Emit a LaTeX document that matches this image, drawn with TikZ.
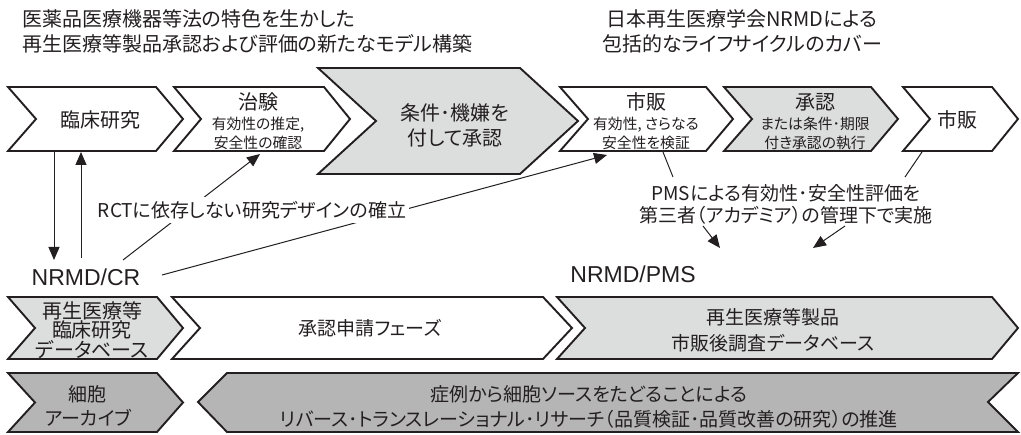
\documentclass[tikz,border=0pt]{standalone}
\usepackage{fontspec}
\setmainfont{Noto Sans CJK JP}[RawFeature=+palt]
\newfontfamily\latinfont{Liberation Sans}
\usetikzlibrary{arrows.meta}
\definecolor{ink}{RGB}{35,31,32}
\definecolor{lightfill}{RGB}{220,221,221}
\definecolor{darkfill}{RGB}{181,181,182}
\newcommand\Ftitle{\fontsize{20}{25}\selectfont}
\newcommand\Fbig{\fontsize{20}{25}\selectfont}
\newcommand\Fmid{\fontsize{19}{22}\selectfont}
\newcommand\Fsmall{\fontsize{14.8}{19}\selectfont}
\newcommand\Flat{\latinfont\fontsize{23}{26}\selectfont}
% style, tl x, notch x, tr x, point x, top y, bottom y
\newcommand\chevshape[7]{%
  \draw[#1] (#2,#6) -- (#4,#6) -- (#5,{(#6+#7)/2}) -- (#4,#7) -- (#2,#7) -- (#3,{(#6+#7)/2}) -- cycle;}
\begin{document}
\begin{tikzpicture}[x=1pt,y=-1pt,
  shapeline/.style={draw=ink, line width=1.9pt, line join=miter},
  whitebox/.style={shapeline, fill=white},
  lightbox/.style={shapeline, fill=lightfill},
  darkbox/.style={shapeline, fill=darkfill},
  conn/.style={draw=ink, line width=1pt},
  arr/.style={conn, -{Triangle[length=13pt,width=11pt]}},
  txt/.style={text=ink, inner sep=0pt, align=center},
  ]
\useasboundingbox (0,0) rectangle (1021,435);

% titles
\node[txt, anchor=west, align=left, font=\Ftitle] (titleL) at (22,31)
  {医薬品医療機器等法の特色を生かした\\再生医療等製品承認および評価の新たなモデル構築};
\node[txt, font=\Ftitle] (titleR) at (742,31)
  {日本再生医療学会NRMDによる\\包括的なライフサイクルのカバー};

% top row of chevrons
\chevshape{whitebox}{8}{36}{156}{183}{87}{151}
\chevshape{whitebox}{174}{201}{324}{350}{87}{151}
\chevshape{lightbox}{318}{376}{520}{578}{68}{174}
\chevshape{whitebox}{560}{588}{706}{733}{87}{151}
\chevshape{lightbox}{724}{752}{871}{898}{87}{151}
\chevshape{whitebox}{903}{930}{992}{1018}{87}{151}

\node[txt, font=\Fbig] (rinsho) at (100,120) {臨床研究};
\node[txt, font=\Fbig] (chiken) at (258,102) {治験};
\node[txt, font=\Fsmall] (chikenS) at (258,133) {有効性の推定,\\安全性の確認};
\node[txt, font=\Fbig] (joken) at (455,125) {条件･機嫌を\\付して承認};
\node[txt, font=\Fbig] (shihan1) at (646,102) {市販};
\node[txt, font=\Fsmall] (shihan1S) at (646,133) {有効性, さらなる\\安全性を検証};
\node[txt, font=\Fbig] (shonin) at (815,102) {承認};
\node[txt, font=\Fsmall] (shoninS) at (815,133) {または条件･期限\\付き承認の執行};
\node[txt, font=\Fbig] (shihan2) at (957,120) {市販};

% connector end points on the shapes
\coordinate (c1down) at (54,151);
\coordinate (c1up) at (81,152);
\coordinate (c2hit) at (260,154);
\coordinate (c3hit) at (607,155);
\coordinate (c3leader) at (663,152);
\coordinate (c5leader) at (922,152);

% labels
\node[txt, font=\Flat] (nrmdcr) at (86,277) {NRMD/CR};
\node[txt, font=\Flat] (nrmdpms) at (633,274) {NRMD/PMS};

\coordinate (crA) at (54,260);
\coordinate (crB) at (81,258);
\coordinate (crC) at (123,260);
\coordinate (crD) at (162,275);

\draw[arr] (c1down) -- (crA);
\draw[arr] (crB) -- (c1up);
\draw[arr] (crC) -- (c2hit);
\draw[arr] (crD) -- (c3hit);

\node[txt, font=\Fmid, fill=white, inner xsep=3pt, inner ysep=4pt] (rct) at (252,210) {RCTに依存しない研究デザインの確立};

\node[txt, font=\Fmid] (pms) at (786,204) {PMSによる有効性･安全性評価を\\第三者（アカデミア）の管理下で実施};
\coordinate (pmsL) at (673,177);
\coordinate (pmsR) at (905,177);
\coordinate (pmsA) at (703,226);
\coordinate (pmsB) at (845,226);
\coordinate (pmsAt) at (720,248);
\coordinate (pmsBt) at (813,248);
\draw[conn] (c3leader) -- (pmsL);
\draw[conn] (c5leader) -- (pmsR);
\draw[arr] (pmsA) -- (pmsAt);
\draw[arr] (pmsB) -- (pmsBt);

% database row
\chevshape{lightbox}{8}{35}{157}{183}{297}{359}
\chevshape{whitebox}{172}{200}{543}{572}{297}{359}
\chevshape{lightbox}{557}{585}{992}{1018}{297}{359}
\node[txt, font=\fontsize{20}{18}\selectfont] (crdb) at (92,330) {再生医療等\\臨床研究\\データベース};
\node[txt, font=\Fmid] (phase) at (370,328) {承認申請フェーズ};
\node[txt, font=\fontsize{19}{26}\selectfont] (pmsdb) at (773,330) {再生医療等製品\\市販後調査データベース};

% archive row
\chevshape{darkbox}{8}{35}{157}{183}{373}{432}
\draw[darkbox] (198,402) -- (227,373) -- (1018,373) -- (988,402) -- (1018,432) -- (227,432) -- cycle;
\node[txt, font=\fontsize{19}{24}\selectfont] (archive) at (88,406) {細胞\\アーカイブ};
\node[txt, font=\fontsize{19}{25}\selectfont] (reverse) at (589,407) {症例から細胞ソースをたどることによる\\リバース･トランスレーショナル･リサーチ（品質検証･品質改善の研究）の推進};
\end{tikzpicture}
\end{document}
